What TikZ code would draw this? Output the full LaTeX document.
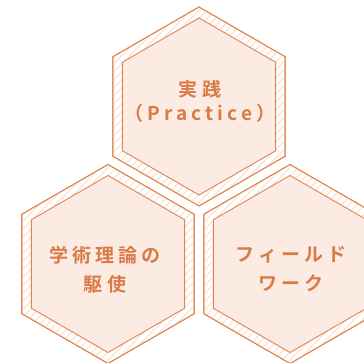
\documentclass[tikz,border=0pt]{standalone}
\usepackage{fontspec}
\newfontfamily\jp[LetterSpace=22, UprightFont={* Bold}]{Noto Sans CJK JP}
\usetikzlibrary{calc}
\definecolor{hexline}{HTML}{E08550}
\definecolor{hexfill}{HTML}{FCEBE2}
\definecolor{hatchc}{HTML}{FADDC8}
\definecolor{txtc}{HTML}{DA7A45}
\def\hexagon#1#2{($(#1)+(90:#2)$) -- ($(#1)+(150:#2)$) -- ($(#1)+(210:#2)$) -- ($(#1)+(270:#2)$) -- ($(#1)+(330:#2)$) -- ($(#1)+(30:#2)$) -- cycle}
\tikzset{
  label text/.style={text=txtc, font=\jp\fontsize{19}{22}\selectfont, inner sep=0pt},
  outerhex/.style={draw=hexline, line width=0.9pt, fill=white},
  innerhex/.style={draw=hexline, line width=0.9pt, fill=hexfill},
  hatchline/.style={draw=hatchc, line width=0.9pt}
}
\newcommand\honeycell[1]{%
  \path[outerhex] \hexagon{#1}{99.5};
  \begin{scope}
    \clip \hexagon{#1}{99.5};
    \foreach \k in {-240,-232,...,240}
      \draw[hatchline] ($(#1)+(\k-120,-120)$) -- ++(240,240);
  \end{scope}
  \draw[draw=hexline, line width=0.9pt] \hexagon{#1}{99.5};
  \path[innerhex] \hexagon{#1}{88.5};
}
\begin{document}
\begin{tikzpicture}[x=1pt,y=1pt]
\useasboundingbox (0,0) rectangle (364,363);
\coordinate (ctop) at (199,256.5);
\coordinate (cleft) at (108,99);
\coordinate (cright) at (290,99);
\honeycell{ctop}
\honeycell{cleft}
\honeycell{cright}
\node[label text] (t1) at (200,274) {実践};
\node[label text] (t2) at (200,250) {（Practice）};
\node[label text] (l1) at (105,108) {学術理論の};
\node[label text] (l2) at (105,79) {駆使};
\node[label text] (r1) at (291,108) {フィールド};
\node[label text] (r2) at (291,80) {ワーク};
\end{tikzpicture}
\end{document}
